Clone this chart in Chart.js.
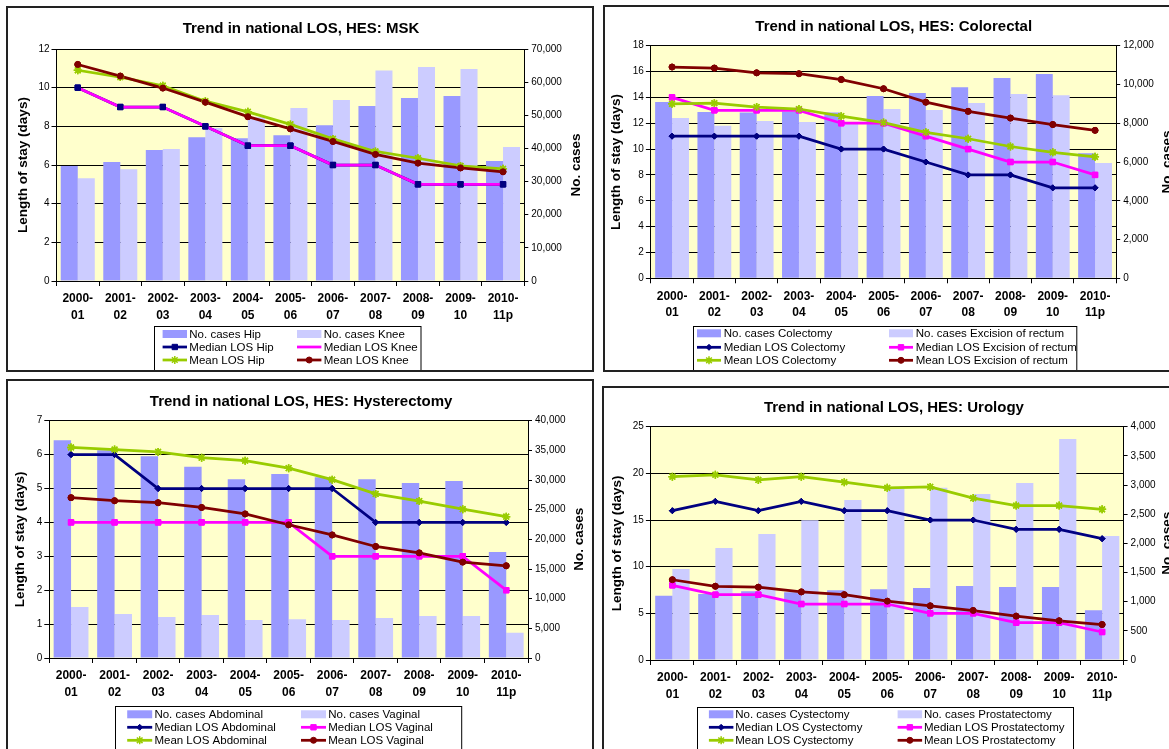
<!DOCTYPE html>
<html>
<head>
<meta charset="utf-8">
<script src="https://cdn.jsdelivr.net/npm/chart.js@4.4.1/dist/chart.umd.min.js"></script>
<style>
  html, body { margin: 0; padding: 0; background: #fff; }
  body { position: relative; width: 1169px; height: 749px; overflow: hidden; }
  canvas { position: absolute; }
  .frame { position: absolute; box-sizing: border-box; border: 2px solid #222; pointer-events: none; z-index: 2; }
</style>
</head>
<body>
<canvas id="msk" width="588" height="366" style="left:6px;top:6px"></canvas>
<canvas id="colorectal" width="600" height="367" style="left:603px;top:5px"></canvas>
<canvas id="hyst" width="588" height="370" style="left:6px;top:379px"></canvas>
<canvas id="uro" width="600" height="363" style="left:602px;top:386px"></canvas>
<div class="frame" style="left:6px;top:6px;width:588px;height:366px"></div>
<div class="frame" style="left:603px;top:5px;width:600px;height:367px"></div>
<div class="frame" style="left:6px;top:379px;width:588px;height:400px"></div>
<div class="frame" style="left:602px;top:386px;width:600px;height:400px"></div>

<script>
// Financial years on the category axis (two-line labels)
const years = [['2000-','01'],['2001-','02'],['2002-','03'],['2003-','04'],['2004-','05'],['2005-','06'],
               ['2006-','07'],['2007-','08'],['2008-','09'],['2009-','10'],['2010-','11p']];

// MSK: hip and knee replacement
const mskCasesHip   = [34700, 35900, 39500, 43400, 43100, 44000, 47000, 52800, 55200, 55800, 36200];
const mskCasesKnee  = [31000, 33700, 39800, 46200, 49400, 52200, 54600, 63500, 64600, 64000, 40400];
const mskMedianHip  = [10, 9, 9, 8, 7, 7, 6, 6, 5, 5, 5];
const mskMedianKnee = [10, 9, 9, 8, 7, 7, 6, 6, 5, 5, 5];
const mskMeanHip    = [10.9, 10.55, 10.1, 9.3, 8.75, 8.1, 7.35, 6.7, 6.35, 5.95, 5.8];
const mskMeanKnee   = [11.2, 10.6, 9.98, 9.25, 8.5, 7.87, 7.22, 6.55, 6.1, 5.85, 5.65];

// Colorectal: colectomy and excision of rectum
const colCasesColectomy  = [9090, 8580, 8560, 8600, 8560, 9400, 9560, 9850, 10330, 10540, 6450];
const colCasesExcision   = [8270, 7870, 8110, 8060, 7960, 8730, 8680, 9040, 9510, 9450, 5950];
const colMedianColectomy = [11, 11, 11, 11, 10, 10, 9, 8, 8, 7, 7];
const colMedianExcision  = [14, 13, 13, 13, 12, 12, 11, 10, 9, 9, 8];
const colMeanColectomy   = [13.5, 13.55, 13.25, 13.1, 12.55, 12.05, 11.3, 10.8, 10.2, 9.75, 9.4];
const colMeanExcision    = [16.35, 16.27, 15.9, 15.83, 15.38, 14.67, 13.63, 12.92, 12.4, 11.9, 11.45];

// Hysterectomy: abdominal and vaginal
const hysCasesAbdominal  = [36700, 35000, 34000, 32250, 30150, 31000, 30450, 30150, 29500, 29850, 17850];
const hysCasesVaginal    = [8600, 7400, 6900, 7250, 6400, 6550, 6400, 6750, 7100, 7100, 4250];
const hysMedianAbdominal = [6, 6, 5, 5, 5, 5, 5, 4, 4, 4, 4];
const hysMedianVaginal   = [4, 4, 4, 4, 4, 4, 3, 3, 3, 3, 2];
const hysMeanAbdominal   = [6.21, 6.15, 6.08, 5.91, 5.82, 5.6, 5.26, 4.84, 4.63, 4.39, 4.17];
const hysMeanVaginal     = [4.73, 4.64, 4.58, 4.44, 4.25, 3.93, 3.63, 3.29, 3.1, 2.83, 2.72];

// Urology: cystectomy and prostatectomy
const uroCasesCystectomy     = [1100, 1130, 1180, 1160, 1195, 1215, 1235, 1270, 1250, 1250, 855];
const uroCasesProstatectomy  = [1560, 1920, 2160, 2395, 2745, 2940, 2955, 2845, 3035, 3790, 2125];
const uroMedianCystectomy    = [16, 17, 16, 17, 16, 16, 15, 15, 14, 14, 13];
const uroMedianProstatectomy = [8, 7, 7, 6, 6, 6, 5, 5, 4, 4, 3];
const uroMeanCystectomy      = [19.65, 19.85, 19.3, 19.65, 19.05, 18.45, 18.55, 17.35, 16.55, 16.55, 16.15];
const uroMeanProstatectomy   = [8.6, 7.9, 7.8, 7.3, 7.0, 6.3, 5.8, 5.3, 4.7, 4.2, 3.8];

const FONT = "'Liberation Sans', Arial, Helvetica, sans-serif";
const NAVY = '#000080', MAGENTA = '#FF00FF', GREEN = '#99CC00', DARKRED = '#800000';
const BAR_DARK = '#9999FF', BAR_LIGHT = '#CCCCFF';

// Pale yellow plot area behind grid and bars
const plotBg = {
  id: 'plotBg',
  beforeDraw(chart) {
    const a = chart.chartArea, ctx = chart.ctx;
    ctx.save();
    ctx.fillStyle = '#FFFFCC';
    ctx.fillRect(a.left, a.top, a.right - a.left, a.bottom - a.top);
    ctx.restore();
  }
};

// Markers of all line series are painted after every line
const markersOnTop = {
  id: 'markersOnTop',
  afterDatasetsDraw(chart) {
    const metas = chart.getSortedVisibleDatasetMetas();
    for (let i = metas.length - 1; i >= 0; i--) {
      const m = metas[i];
      if (m.type !== 'line') continue;
      m.data.forEach(pt => pt.draw(chart.ctx, chart.chartArea));
    }
  }
};

// Chart title and the two rotated axis titles
const panelText = {
  id: 'panelText',
  afterDraw(chart, args, o) {
    const ctx = chart.ctx, a = chart.chartArea;
    ctx.save();
    ctx.fillStyle = '#000';
    ctx.textAlign = 'center';
    ctx.textBaseline = 'middle';
    ctx.font = 'bold 15px ' + FONT;
    ctx.fillText(o.title, o.titleX, o.titleY);
    ctx.font = 'bold 13.5px ' + FONT;
    const cy = (a.top + a.bottom) / 2;
    [[o.leftX, o.leftText], [o.rightX, o.rightText]].forEach(([x, t]) => {
      ctx.save();
      ctx.translate(x, cy);
      ctx.rotate(-Math.PI / 2);
      ctx.fillText(t, 0, 0);
      ctx.restore();
    });
    ctx.restore();
  }
};

function drawMarker(ctx, style, radius, x, y, bw) {
  if (!radius) return;
  if (Chart.helpers && Chart.helpers.drawPoint) {
    ctx.lineWidth = bw;
    Chart.helpers.drawPoint(ctx, { pointStyle: style, radius: radius, rotation: 0, borderWidth: bw }, x, y);
    return;
  }
  ctx.beginPath();
  ctx.arc(x, y, radius, 0, Math.PI * 2);
  ctx.fill();
}

// Boxed two-column legend built from the datasets
const boxLegend = {
  id: 'boxLegend',
  afterDraw(chart, args, o) {
    const ctx = chart.ctx;
    ctx.save();
    ctx.fillStyle = '#fff';
    ctx.fillRect(o.x, o.y, o.w, o.h);
    ctx.lineWidth = 1;
    ctx.strokeStyle = '#000';
    ctx.strokeRect(Math.round(o.x) + 0.5, Math.round(o.y) + 0.5, o.w, o.h);
    ctx.font = o.fontSize + 'px ' + FONT;
    ctx.textAlign = 'left';
    ctx.textBaseline = 'middle';
    chart.data.datasets.forEach((ds, i) => {
      const sx = o.cols[i % 2], y = o.rows[Math.floor(i / 2)], sw = o.symW;
      if (ds.type === 'bar') {
        ctx.fillStyle = ds.backgroundColor;
        ctx.fillRect(sx, y - 4, sw, 8);
      } else {
        ctx.strokeStyle = ds.borderColor;
        ctx.fillStyle = ds.borderColor;
        ctx.lineWidth = ds.borderWidth;
        ctx.beginPath();
        ctx.moveTo(sx, y);
        ctx.lineTo(sx + sw, y);
        ctx.stroke();
        drawMarker(ctx, ds.pointStyle, ds.pointRadius, sx + sw / 2, y, ds.pointBorderWidth);
      }
      ctx.fillStyle = '#000';
      ctx.fillText(ds.label, sx + sw + o.gap, y + 0.5);
    });
    ctx.restore();
  }
};

function lineSeries(label, data, color, style, radius, order, pbw) {
  return {
    type: 'line', label, data, yAxisID: 'y', order,
    borderColor: color, backgroundColor: color, borderWidth: 2.75,
    pointStyle: style, pointRadius: radius, pointBorderWidth: pbw || 1,
    pointBackgroundColor: color, pointBorderColor: color,
    tension: 0, fill: false
  };
}

function makePanel(id, p) {
  const el = document.getElementById(id);
  const W = el.width, H = el.height, a = p.area;
  const WL = 40, WR = 50, HX = 50;
  const tickFont = { family: FONT, size: 10 };
  new Chart(el, {
    type: 'bar',
    data: {
      labels: years,
      datasets: [
        { type: 'bar', label: p.names[0], data: p.casesA, yAxisID: 'y1', backgroundColor: BAR_DARK,
          order: 10, categoryPercentage: 0.8, barPercentage: 1.0, borderWidth: 0 },
        { type: 'bar', label: p.names[1], data: p.casesB, yAxisID: 'y1', backgroundColor: BAR_LIGHT,
          order: 10, categoryPercentage: 0.8, barPercentage: 1.0, borderWidth: 0 },
        lineSeries(p.names[2], p.medianA, NAVY, p.medianAStyle, p.medianARadius, 4),
        lineSeries(p.names[3], p.medianB, MAGENTA, 'rect', p.medianBRadius, 3),
        lineSeries(p.names[4], p.meanA, GREEN, 'star', 4, 2, 1.5),
        lineSeries(p.names[5], p.meanB, DARKRED, 'circle', 3, 1)
      ]
    },
    options: {
      responsive: false,
      animation: false,
      events: [],
      layout: { padding: { left: a.l - WL, right: W - a.r - WR, top: a.t, bottom: H - a.b - HX } },
      plugins: {
        legend: { display: false },
        tooltip: { enabled: false },
        title: { display: false },
        panelText: p.text,
        boxLegend: p.legend
      },
      scales: {
        x: {
          grid: { drawOnChartArea: false, offset: true, tickLength: 5, color: '#000' },
          border: { color: '#000' },
          ticks: { font: { family: FONT, size: 12, weight: 'bold', lineHeight: 1.35 }, color: '#000',
                   padding: 5, autoSkip: false, maxRotation: 0 },
          afterFit: s => { s.height = HX; }
        },
        y: {
          position: 'left', min: 0, max: p.yMax,
          ticks: { stepSize: p.yStep, font: tickFont, color: '#000', padding: 2 },
          grid: { color: '#000', tickLength: 5 },
          border: { color: '#000' },
          afterFit: s => { s.width = WL; }
        },
        y1: {
          position: 'right', min: 0, max: p.y1Max,
          ticks: { stepSize: p.y1Step, font: tickFont, color: '#000', padding: 3 },
          grid: { drawOnChartArea: false, tickLength: 4, color: '#000' },
          border: { color: '#000' },
          afterFit: s => { s.width = WR; }
        }
      }
    },
    plugins: [plotBg, markersOnTop, panelText, boxLegend]
  });
}

makePanel('msk', {
  casesA: mskCasesHip, casesB: mskCasesKnee,
  medianA: mskMedianHip, medianB: mskMedianKnee, meanA: mskMeanHip, meanB: mskMeanKnee,
  names: ['No. cases Hip', 'No. cases Knee', 'Median LOS Hip', 'Median LOS Knee', 'Mean LOS Hip', 'Mean LOS Knee'],
  medianAStyle: 'rect', medianARadius: 3.8, medianBRadius: 0,
  yMax: 12, yStep: 2, y1Max: 70000, y1Step: 10000,
  area: { l: 50.5, r: 518.3, t: 43, b: 275 },
  text: { title: 'Trend in national LOS, HES: MSK', titleX: 295, titleY: 23,
          leftX: 17.3, leftText: 'Length of stay (days)', rightX: 569.8, rightText: 'No. cases' },
  legend: { x: 148.3, y: 320, w: 266.5, h: 60, cols: [156.6, 291], rows: [328, 341, 354],
            symW: 24.4, gap: 2.3, fontSize: 11.5 }
});

makePanel('colorectal', {
  casesA: colCasesColectomy, casesB: colCasesExcision,
  medianA: colMedianColectomy, medianB: colMedianExcision, meanA: colMeanColectomy, meanB: colMeanExcision,
  names: ['No. cases Colectomy', 'No. cases Excision of rectum', 'Median LOS Colectomy',
          'Median LOS Excision of rectum', 'Mean LOS Colectomy', 'Mean LOS Excision of rectum'],
  medianAStyle: 'rectRot', medianARadius: 3, medianBRadius: 3.8,
  yMax: 18, yStep: 2, y1Max: 12000, y1Step: 2000,
  area: { l: 47.9, r: 513.2, t: 40.7, b: 273.3 },
  text: { title: 'Trend in national LOS, HES: Colorectal', titleX: 290.7, titleY: 21.7,
          leftX: 13.6, leftText: 'Length of stay (days)', rightX: 564, rightText: 'No. cases' },
  legend: { x: 90.4, y: 321, w: 383.3, h: 60, cols: [94, 286], rows: [328.3, 342.3, 355.3],
            symW: 24, gap: 2.7, fontSize: 11.5 }
});

makePanel('hyst', {
  casesA: hysCasesAbdominal, casesB: hysCasesVaginal,
  medianA: hysMedianAbdominal, medianB: hysMedianVaginal, meanA: hysMeanAbdominal, meanB: hysMeanVaginal,
  names: ['No. cases Abdominal', 'No. cases Vaginal', 'Median LOS Abdominal', 'Median LOS Vaginal',
          'Mean LOS Abdominal', 'Mean LOS Vaginal'],
  medianAStyle: 'rectRot', medianARadius: 3, medianBRadius: 3.8,
  yMax: 7, yStep: 1, y1Max: 40000, y1Step: 5000,
  area: { l: 43.3, r: 522, t: 41.7, b: 279 },
  text: { title: 'Trend in national LOS, HES: Hysterectomy', titleX: 295.1, titleY: 22.7,
          leftX: 14.7, leftText: 'Length of stay (days)', rightX: 573.6, rightText: 'No. cases' },
  legend: { x: 108.8, y: 326.7, w: 346.2, h: 60, cols: [121.2, 295], rows: [335.3, 348.3, 361.3],
            symW: 25, gap: 2.2, fontSize: 11.5 }
});

makePanel('uro', {
  casesA: uroCasesCystectomy, casesB: uroCasesProstatectomy,
  medianA: uroMedianCystectomy, medianB: uroMedianProstatectomy, meanA: uroMeanCystectomy, meanB: uroMeanProstatectomy,
  names: ['No. cases Cystectomy', 'No. cases Prostatectomy', 'Median LOS Cystectomy', 'Median LOS Prostatectomy',
          'Mean LOS Cystectomy', 'Mean LOS Prostatectomy'],
  medianAStyle: 'rectRot', medianARadius: 3, medianBRadius: 3.8,
  yMax: 25, yStep: 5, y1Max: 4000, y1Step: 500,
  area: { l: 48.9, r: 521.6, t: 40.7, b: 274 },
  text: { title: 'Trend in national LOS, HES: Urology', titleX: 291.9, titleY: 21.7,
          leftX: 15.7, leftText: 'Length of stay (days)', rightX: 565.5, rightText: 'No. cases' },
  legend: { x: 95, y: 320.7, w: 376, h: 60, cols: [106.9, 295.6], rows: [328.3, 341.3, 354.3],
            symW: 24.5, gap: 1.8, fontSize: 11.5 }
});
</script>
</body>
</html>
